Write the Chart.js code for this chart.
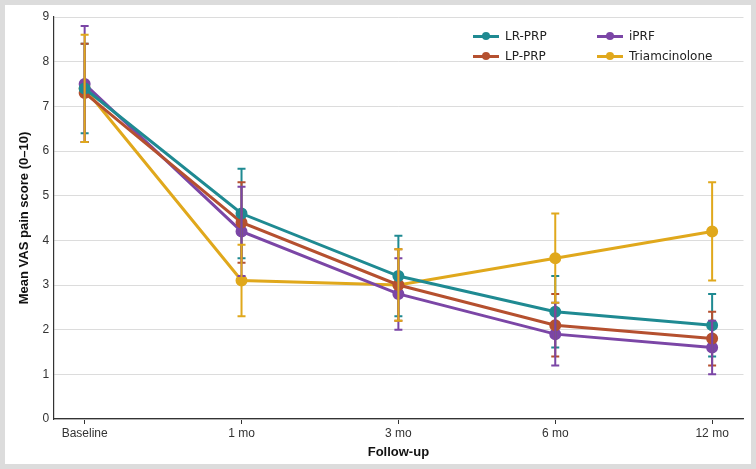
<!DOCTYPE html>
<html><head><meta charset="utf-8">
<script src="https://cdn.jsdelivr.net/npm/chart.js@4"></script>
<style>
body{margin:0;background:#dcdcdc;font-family:"DejaVu Sans",sans-serif;}
#wrap{position:absolute;left:5px;top:5px;width:746px;height:459px;background:#fff;}
#legend{position:absolute;left:468px;top:24px;font-size:12px;color:#222;display:grid;grid-template-columns:124px 120px;row-gap:6px;}
.it{display:flex;align-items:center;}
.sw{position:relative;width:26px;height:12px;margin-right:6px;}
.sw i{position:absolute;left:0;top:5px;width:26px;height:2.5px;}
.sw b{position:absolute;left:9px;top:2px;width:8px;height:8px;border-radius:50%;}
</style></head><body>
<div id="wrap"><canvas id="c" width="746" height="459"></canvas>
<div id="legend"></div></div>
<script>
// Follow-up time points
const timepoints = ['Baseline', '1 mo', '3 mo', '6 mo', '12 mo'];

// Mean VAS and SD per group
const lrPrp = [7.4, 4.6, 3.2, 2.4, 2.1];
const lrPrpSd = [1.0, 1.0, 0.9, 0.8, 0.7];
const lpPrp = [7.3, 4.4, 3.0, 2.1, 1.8];
const lpPrpSd = [1.1, 0.9, 0.8, 0.7, 0.6];
const iprf = [7.5, 4.2, 2.8, 1.9, 1.6];
const iprfSd = [1.3, 1.0, 0.8, 0.7, 0.6];
const triam = [7.4, 3.1, 3.0, 3.6, 4.2];
const triamSd = [1.2, 0.8, 0.8, 1.0, 1.1];

const groups = [
    {label: 'LR-PRP', data: lrPrp, sd: lrPrpSd, color: '#1f8a92'},
    {label: 'LP-PRP', data: lpPrp, sd: lpPrpSd, color: '#b5502f'},
    {label: 'iPRF', data: iprf, sd: iprfSd, color: '#7b46a6'},
    {label: 'Triamcinolone', data: triam, sd: triamSd, color: '#e0a81c'}
];

// Error bars drawn through the chart scales
const errorBars = {
    id: 'errorBars',
    afterDatasetsDraw(chart) {
        const ctx = chart.ctx, xs = chart.scales.x, ys = chart.scales.y;
        groups.forEach(g => {
            ctx.save();
            ctx.strokeStyle = g.color;
            ctx.lineWidth = 2;
            g.data.forEach((v, i) => {
                const x = xs.getPixelForValue(i);
                const y1 = ys.getPixelForValue(v - g.sd[i]);
                const y2 = ys.getPixelForValue(v + g.sd[i]);
                ctx.beginPath();
                ctx.moveTo(x, y1); ctx.lineTo(x, y2);
                ctx.moveTo(x - 4, y1); ctx.lineTo(x + 4, y1);
                ctx.moveTo(x - 4, y2); ctx.lineTo(x + 4, y2);
                ctx.stroke();
            });
            ctx.restore();
        });
    }
};

new Chart(document.getElementById('c'), {
    type: 'line',
    data: {
        datasets: groups.map(g => ({
            label: g.label,
            data: g.data.map((v, i) => ({x: i, y: v})),
            borderColor: g.color,
            backgroundColor: g.color,
            borderWidth: 3,
            pointRadius: 4.5,
            pointHoverRadius: 4.5
        }))
    },
    options: {
        responsive: false,
        animation: false,
        layout: {padding: {left: 6, right: 6, top: 12, bottom: 2}},
        plugins: {legend: {display: false}, tooltip: {enabled: false}},
        scales: {
            x: {
                type: 'linear', min: -0.2, max: 4.2,
                afterBuildTicks: s => { s.ticks = timepoints.map((t, i) => ({value: i})); },
                ticks: {callback: v => timepoints[v], color: '#333', font: {size: 12}, autoSkip: false, padding: 2},
                grid: {display: true, drawOnChartArea: false, tickLength: 5, color: '#333'},
                border: {color: '#333', width: 1.2},
                title: {display: true, text: 'Follow-up', font: {size: 13, weight: 'bold'}, color: '#111', padding: 2}
            },
            y: {
                min: 0, max: 9,
                ticks: {stepSize: 1, color: '#333', font: {size: 12}, padding: 4},
                grid: {color: '#dcdcdc', borderDash: [4, 4], drawTicks: false},
                border: {color: '#333', width: 1.2},
                title: {display: true, text: 'Mean VAS pain score (0\u201310)', font: {size: 13, weight: 'bold'}, color: '#111', padding: 6}
            }
        }
    },
    plugins: [errorBars]
});

const lg = document.getElementById('legend');
[groups[0], groups[2], groups[1], groups[3]].forEach(g => {
    lg.innerHTML += `<div class="it"><span class="sw"><i style="background:${g.color}"></i><b style="background:${g.color}"></b></span>${g.label}</div>`;
});
</script></body></html>
